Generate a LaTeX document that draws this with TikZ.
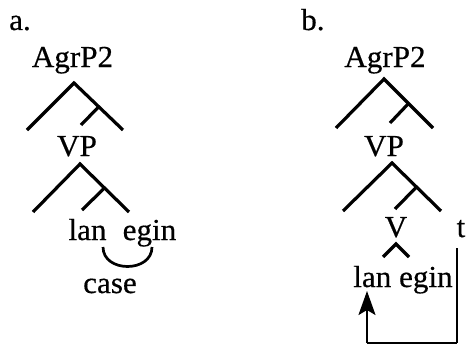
\documentclass[tikz,border=0pt]{standalone}
\usepackage{fontspec}
\setmainfont{Liberation Serif}[FakeStretch=1.02, FakeBold=0.5]
\usetikzlibrary{arrows.meta}
\begin{document}
\begin{tikzpicture}[x=1pt,y=-1pt,
  every node/.style={inner sep=0pt, font=\fontsize{30.5}{33}\selectfont},
  lbl/.style={anchor=base},
  branch/.style={line width=3.2pt, line join=miter, line cap=butt},
  link/.style={line width=2.7pt},
  trace/.style={line width=2.3pt},
  movetip/.tip={Stealth[length=24pt,width=17pt,inset=5pt]}]
\useasboundingbox (0,0) rectangle (466,345);

% ---------- (a) ----------
\node[lbl, anchor=base west] (la) at (9,30) {a.};
\node[lbl] (agrA) at (72.5,67) {AgrP2};
\coordinate (aTop) at (74,83);
\coordinate (aL) at (27,130);
\coordinate (aR) at (123,130);
\coordinate (aM) at (98.5,107);
\coordinate (aMi) at (81,125);
\draw[branch] (aL) -- (aTop) -- (aR);
\draw[branch] (aM) -- (aMi);

\node[lbl] (vpA) at (77,156) {VP};
\coordinate (vTop) at (80,164);
\coordinate (vL) at (33,212);
\coordinate (vR) at (129,212);
\coordinate (vM) at (104.5,188);
\coordinate (vMi) at (82,210);
\draw[branch] (vL) -- (vTop) -- (vR);
\draw[branch] (vM) -- (vMi);

\node[lbl] (lanA) at (87.5,240) {lan};
\node[lbl] (eginA) at (149.5,240) {egin};
\coordinate (cs) at (103,247);
\coordinate (ce) at (152,247);
\draw[link] (cs) .. controls (103,273) and (152,273) .. (ce);
\node[lbl] (caseA) at (110,293) {case};

% ---------- (b) ----------
\node[lbl, anchor=base west] (lb) at (301,30) {b.};
\node[lbl] (agrB) at (385,67) {AgrP2};
\coordinate (bTop) at (384,79);
\coordinate (bL) at (336,128);
\coordinate (bR) at (433,128);
\coordinate (bM) at (408.5,103.5);
\coordinate (bMi) at (390,123);
\draw[branch] (bL) -- (bTop) -- (bR);
\draw[branch] (bM) -- (bMi);

\node[lbl] (vpB) at (384,156) {VP};
\coordinate (wTop) at (392,163);
\coordinate (wL) at (343,211);
\coordinate (wR) at (441,211);
\coordinate (wM) at (416.5,187);
\coordinate (wMi) at (395,209);
\draw[branch] (wL) -- (wTop) -- (wR);
\draw[branch] (wM) -- (wMi);

\node[lbl] (vB) at (396,237) {V};
\node[lbl] (tB) at (461,237) {t};
\coordinate (kTop) at (396,244);
\coordinate (kL) at (383,257);
\coordinate (kR) at (409,257);
\draw[branch] (kL) -- (kTop) -- (kR);

\node[lbl] (lanB) at (403,287) {lan egin};

\coordinate (tr1) at (457,248);
\coordinate (tr2) at (457,343);
\coordinate (tr3) at (367,343);
\coordinate (tr4) at (367,291);
\draw[trace] (tr1) -- (tr2);
\draw[line width=1.5pt] (tr2) -- (tr3);
\draw[trace, -movetip] (tr3) -- (tr4);
\end{tikzpicture}
\end{document}
